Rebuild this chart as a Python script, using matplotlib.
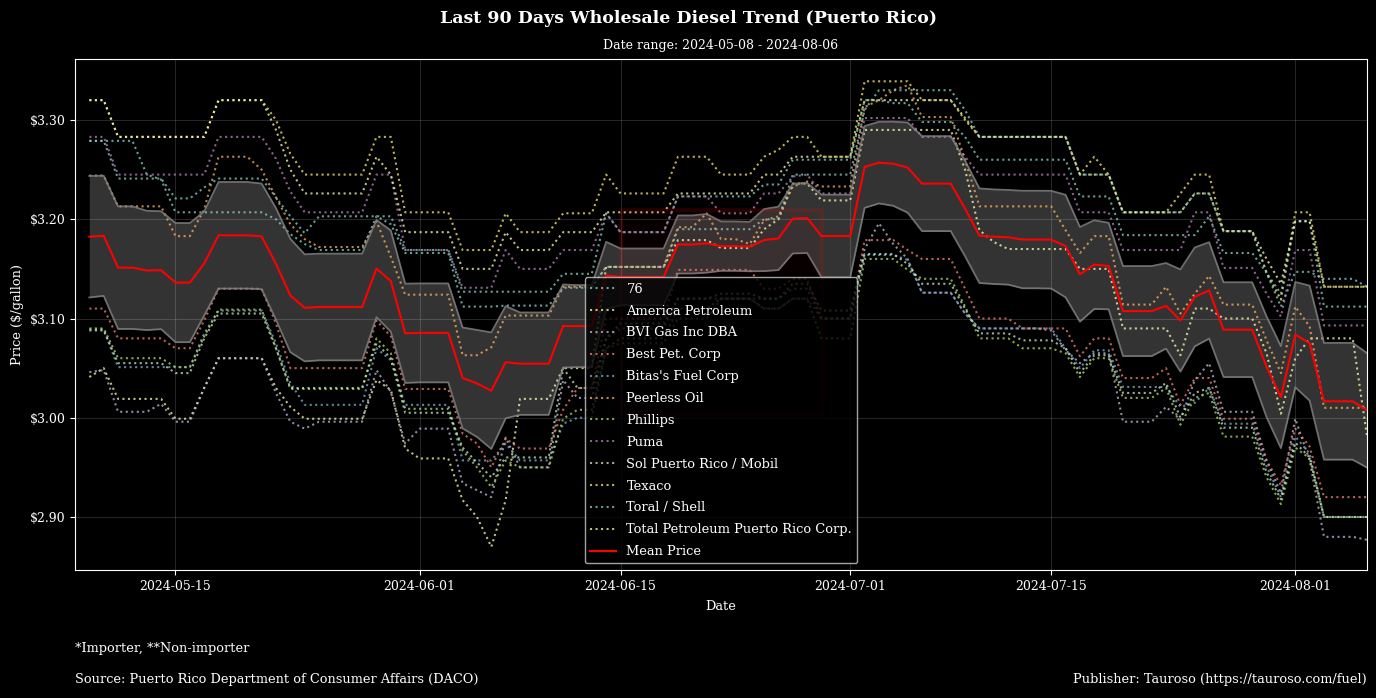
import numpy as np
import pandas as pd
import matplotlib
matplotlib.use("Agg")
import matplotlib.pyplot as plt
import matplotlib.dates as mdates
from matplotlib.patches import Rectangle
from matplotlib.ticker import FuncFormatter, MultipleLocator

# ======================
# DATA (daily prices as (value, number of days) runs)
# ======================
dates = pd.date_range("2024-05-09", "2024-08-06", freq="D")

p_76 = [(3.279, 2), (3.241, 4), (3.221, 2), (3.232, 1), (3.241, 4), (3.222, 1), (3.203, 1), (3.186, 1),
        (3.203, 6), (3.169, 4), (3.127, 3),
        (3.127, 4), (3.145, 3), (3.206, 1), (3.187, 4), (3.223, 6), (3.235, 2), (3.260, 5),
        (3.320, 2), (3.317, 2), (3.298, 3), (3.283, 1), (3.260, 7), (3.223, 3), (3.184, 6), (3.203, 1),
        (3.166, 3), (3.146, 1), (3.112, 1), (3.147, 2), (3.140, 3), (3.132, 1)]
p_america = [(3.041, 1), (3.050, 1), (3.019, 4), (2.999, 2), (3.030, 1), (3.060, 4), (3.030, 1), (3.011, 1),
             (2.999, 5), (3.038, 1), (3.028, 1), (2.969, 1), (2.959, 3), (2.917, 1), (2.900, 1), (2.870, 1),
             (2.917, 1), (3.019, 3), (3.050, 3), (3.152, 5), (3.179, 3), (3.171, 3), (3.190, 1), (3.200, 1),
             (3.236, 2), (3.219, 3),
             (3.290, 7), (3.250, 1), (3.189, 1), (3.177, 1), (3.170, 5), (3.150, 3), (3.090, 4), (3.063, 1),
             (3.110, 2), (3.100, 3), (3.065, 1), (3.004, 1), (3.060, 1), (3.080, 4), (2.981, 1)]
p_bvi = [(3.046, 1), (3.048, 1), (3.006, 3), (3.014, 1), (2.996, 2), (3.030, 1), (3.060, 4), (3.025, 1),
         (2.996, 1), (2.989, 1), (2.996, 4), (3.048, 1), (3.026, 1), (2.974, 1), (2.989, 3), (2.934, 1),
         (2.927, 1), (2.920, 1),
         (2.980, 1), (2.950, 3), (3.038, 1), (3.020, 2), (3.080, 1), (3.090, 4), (3.120, 3), (3.120, 3),
         (3.120, 2), (3.130, 2), (3.100, 3),
         (3.170, 1), (3.196, 1), (3.175, 1), (3.160, 1), (3.126, 3), (3.105, 1), (3.090, 5), (3.088, 1),
         (3.068, 1), (3.055, 1), (3.065, 2), (2.996, 3), (3.011, 1), (2.998, 1), (3.038, 1), (3.055, 1),
         (3.006, 3), (2.957, 1), (2.924, 1), (2.999, 1), (2.957, 1), (2.880, 3), (2.877, 1)]
p_best = [(3.110, 2), (3.080, 4), (3.070, 2), (3.098, 1), (3.130, 4), (3.095, 1), (3.050, 6), (3.098, 1),
          (3.082, 1), (3.029, 4), (2.984, 1), (2.974, 1), (2.950, 1),
          (2.979, 1), (2.969, 3), (3.008, 1), (3.030, 2), (3.100, 1), (3.100, 4), (3.149, 3), (3.149, 3),
          (3.130, 2), (3.140, 2), (3.100, 3),
          (3.179, 3), (3.169, 1), (3.160, 3), (3.130, 1), (3.100, 3), (3.090, 4), (3.062, 1), (3.080, 2),
          (3.040, 3), (3.050, 1), (3.013, 1), (3.040, 2), (2.999, 3), (2.957, 1), (2.932, 1), (2.989, 1),
          (2.971, 1), (2.920, 4)]
p_bitas = [(3.089, 2), (3.051, 4), (3.051, 2), (3.085, 1), (3.108, 4), (3.075, 1), (3.035, 1), (3.013, 5),
           (3.070, 1), (3.058, 1), (3.013, 4), (2.957, 3),
           (2.974, 1), (2.957, 3), (2.994, 1), (3.000, 2), (3.070, 1), (3.075, 4), (3.100, 3), (3.120, 3),
           (3.110, 2), (3.120, 2), (3.100, 3),
           (3.164, 3), (3.159, 1), (3.126, 3), (3.105, 1), (3.090, 6), (3.070, 1), (3.050, 1), (3.068, 2),
           (3.031, 4), (3.011, 1), (3.015, 1), (3.030, 1), (2.994, 3), (2.951, 1), (2.920, 1), (2.981, 1),
           (2.964, 1), (2.900, 4)]
p_peerless = [(3.244, 2), (3.213, 4), (3.183, 2), (3.210, 1), (3.263, 3), (3.250, 1), (3.222, 1), (3.195, 1),
              (3.180, 1), (3.172, 4), (3.198, 1), (3.162, 1), (3.124, 4), (3.063, 2), (3.071, 1),
              (3.103, 4), (3.132, 3), (3.152, 5), (3.192, 2), (3.206, 1), (3.180, 2), (3.175, 1), (3.199, 1),
              (3.203, 1), (3.233, 1), (3.238, 1), (3.233, 3),
              (3.313, 1), (3.320, 1), (3.330, 1), (3.335, 1), (3.303, 3), (3.260, 1), (3.213, 6), (3.189, 1),
              (3.166, 1), (3.183, 2), (3.114, 3), (3.132, 1), (3.105, 1), (3.125, 1), (3.143, 1), (3.114, 3),
              (3.078, 1), (3.045, 1), (3.112, 1), (3.092, 1), (3.010, 4)]
p_phillips = [(3.090, 2), (3.060, 4), (3.051, 2), (3.082, 1), (3.109, 4), (3.070, 1), (3.029, 6), (3.080, 1),
              (3.065, 1), (3.009, 4), (2.967, 1), (2.950, 1), (2.930, 1),
              (2.957, 1), (2.950, 3), (2.999, 1), (3.008, 2), (3.070, 1), (3.080, 4), (3.110, 3), (3.120, 3),
              (3.110, 2), (3.120, 2), (3.080, 3),
              (3.160, 3), (3.149, 1), (3.140, 3), (3.112, 1), (3.080, 3), (3.070, 3), (3.065, 1), (3.041, 1),
              (3.060, 2), (3.020, 3), (3.030, 1), (2.993, 1), (3.020, 1), (3.025, 1), (2.981, 3), (2.940, 1),
              (2.913, 1), (2.970, 1), (2.959, 1), (2.900, 4)]
p_puma = [(3.283, 2), (3.245, 7), (3.283, 4), (3.261, 1), (3.228, 1), (3.207, 5), (3.245, 2), (3.169, 4),
          (3.131, 3),
          (3.169, 1), (3.150, 3), (3.169, 3), (3.206, 1), (3.187, 4), (3.223, 3), (3.206, 3), (3.226, 2),
          (3.243, 1), (3.245, 1), (3.226, 3),
          (3.302, 4), (3.283, 3), (3.263, 1), (3.245, 7), (3.207, 3), (3.169, 5), (3.207, 2), (3.151, 3),
          (3.125, 1), (3.102, 1), (3.169, 2), (3.093, 4)]
p_sol = [(3.088, 2), (3.055, 4), (3.045, 2), (3.080, 1), (3.105, 4), (3.070, 1), (3.030, 6), (3.075, 1),
         (3.060, 1), (3.005, 4), (2.970, 1), (2.955, 1), (2.940, 1),
         (2.960, 1), (2.960, 3), (3.050, 1), (3.030, 2), (3.080, 1), (3.095, 4), (3.120, 3), (3.125, 3),
         (3.120, 2), (3.135, 2), (3.108, 3),
         (3.165, 3), (3.155, 1), (3.135, 3), (3.110, 1), (3.085, 3), (3.078, 3), (3.070, 1), (3.045, 1),
         (3.063, 2), (3.025, 3), (3.035, 1), (3.000, 1), (3.025, 1), (3.030, 1), (2.990, 3), (2.945, 1),
         (2.918, 1), (2.975, 1), (2.960, 1), (2.900, 4)]
p_texaco = [(3.320, 2), (3.283, 7), (3.320, 4), (3.300, 1), (3.266, 1), (3.245, 5), (3.283, 2), (3.207, 4),
            (3.169, 3),
            (3.206, 1), (3.187, 3), (3.206, 3), (3.245, 1), (3.226, 4), (3.263, 3), (3.245, 3), (3.263, 1),
            (3.270, 1), (3.283, 2), (3.263, 3),
            (3.339, 4), (3.320, 3), (3.300, 1), (3.283, 7), (3.245, 1), (3.263, 1), (3.245, 1), (3.207, 4),
            (3.226, 1), (3.245, 2), (3.188, 3), (3.146, 1), (3.119, 1), (3.207, 2), (3.132, 4)]
p_toral = [(3.279, 4), (3.245, 1), (3.240, 1), (3.207, 7), (3.200, 1), (3.185, 1), (3.175, 1), (3.169, 4),
           (3.203, 1), (3.195, 1), (3.166, 4), (3.112, 3),
           (3.113, 4), (3.131, 3), (3.152, 5), (3.190, 6), (3.200, 2), (3.245, 5),
           (3.310, 1), (3.330, 6), (3.310, 1), (3.283, 7), (3.245, 3), (3.207, 5), (3.226, 2), (3.188, 3),
           (3.146, 1), (3.125, 1), (3.198, 2), (3.112, 4)]
p_total = [(3.320, 2), (3.283, 7), (3.320, 4), (3.290, 1), (3.250, 1), (3.226, 5), (3.263, 1), (3.245, 1),
           (3.187, 4), (3.150, 3),
           (3.187, 1), (3.169, 3), (3.187, 3), (3.207, 5), (3.226, 6), (3.245, 2), (3.263, 5),
           (3.320, 7), (3.302, 1), (3.283, 7), (3.245, 3), (3.207, 5), (3.226, 2), (3.188, 3), (3.160, 1),
           (3.135, 1), (3.198, 2), (3.132, 4)]

companies = ["76", "America Petroleum", "BVI Gas Inc DBA", "Best Pet. Corp", "Bitas's Fuel Corp",
             "Peerless Oil", "Phillips", "Puma", "Sol Puerto Rico / Mobil", "Texaco", "Toral / Shell",
             "Total Petroleum Puerto Rico Corp."]
runs = [p_76, p_america, p_bvi, p_best, p_bitas, p_peerless, p_phillips, p_puma, p_sol, p_texaco,
        p_toral, p_total]


def expand(pairs):
    return np.repeat([v for v, n in pairs], [n for v, n in pairs])


df = pd.DataFrame({name: expand(r) for name, r in zip(companies, runs)}, index=dates)

mean = df.mean(axis=1)
ci = 1.96 * df.std(axis=1, ddof=0) / np.sqrt(df.shape[1])
upper = mean + ci
lower = mean - ci

# ======================
# PLOTTING
# ======================
plt.style.use("dark_background")
plt.rcParams["font.family"] = ["DejaVu Serif"]
plt.rcParams["font.size"] = 9

fig, ax = plt.subplots(figsize=(13.76, 6.98), dpi=100)
fig.subplots_adjust(left=0.0545, right=0.9935, top=0.9155, bottom=0.1834)

for name in companies:
    ax.plot(df.index, df[name], linestyle=":", linewidth=1.5, alpha=0.75, label=name)

ax.fill_between(df.index, lower, upper, color="gray", alpha=0.4, linewidth=0)
ax.plot(df.index, upper, color="gray", linewidth=1.3, alpha=0.85)
ax.plot(df.index, lower, color="gray", linewidth=1.3, alpha=0.85)
ax.plot(df.index, mean, color="red", linewidth=1.5, label="Mean Price")

# faint highlight box
x0 = mdates.date2num(pd.Timestamp("2024-06-15"))
x1 = mdates.date2num(pd.Timestamp("2024-06-29"))
ax.add_patch(Rectangle((x0, 3.003), x1 - x0, 0.206, facecolor=(1, 0, 0, 0.03),
                       edgecolor=(1, 0, 0, 0.13), linewidth=3, zorder=5))

ax.set_xlim(pd.Timestamp("2024-05-08"), pd.Timestamp("2024-08-06"))
ax.set_ylim(2.8466, 3.3615)
ax.xaxis.set_major_locator(mdates.DayLocator(bymonthday=[1, 15]))
ax.xaxis.set_major_formatter(mdates.DateFormatter("%Y-%m-%d"))
ax.yaxis.set_major_locator(MultipleLocator(0.1))
ax.yaxis.set_major_formatter(FuncFormatter(lambda v, p: f"${v:.2f}"))
ax.grid(True, color="white", alpha=0.15, linewidth=0.8)

ax.set_xlabel("Date", fontsize=9.3, labelpad=5)
ax.set_ylabel("Price ($/gallon)", fontsize=9.3)
ax.set_title("Date range: 2024-05-08 - 2024-08-06", fontsize=9, pad=7)
fig.suptitle("Last 90 Days Wholesale Diesel Trend (Puerto Rico)", fontsize=12.5, fontweight="bold",
             y=0.974, va="center")

ax.legend(loc="lower center", fontsize=9.4, framealpha=0.8, labelspacing=0.68)

fig.text(0.0545, 0.0716, "*Importer, **Non-importer", fontsize=9.3, va="center")
fig.text(0.0545, 0.0272, "Source: Puerto Rico Department of Consumer Affairs (DACO)", fontsize=9.3, va="center")
fig.text(0.9935, 0.0272, "Publisher: Tauroso (https://tauroso.com/fuel)", fontsize=9.3, va="center", ha="right")

plt.savefig("out.png", dpi=100)
